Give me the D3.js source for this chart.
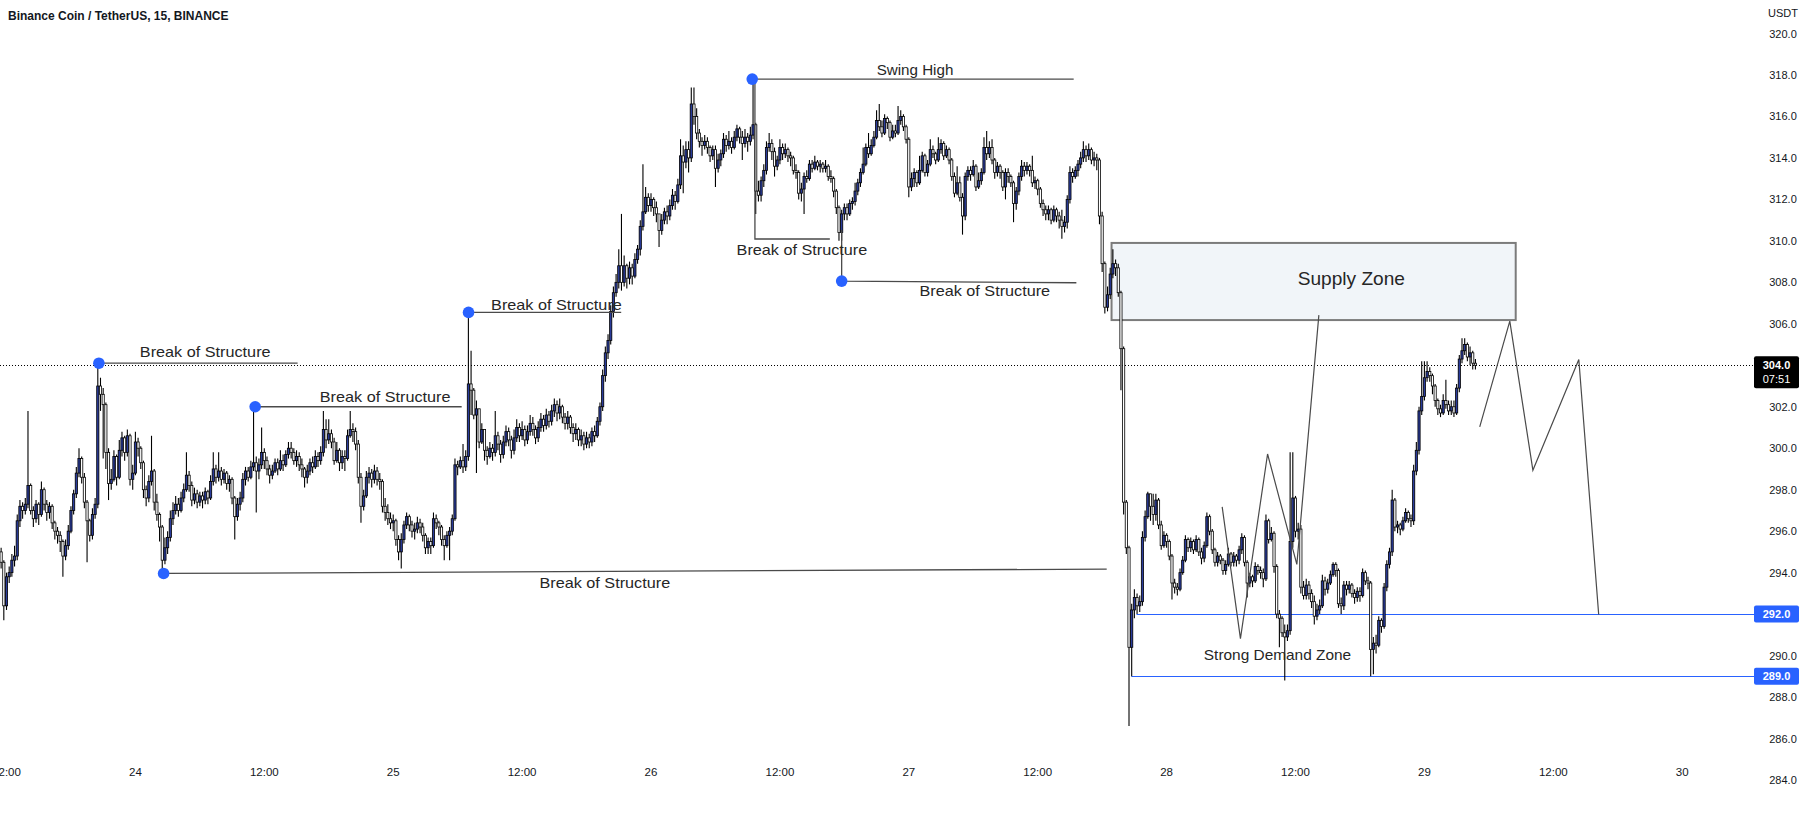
<!DOCTYPE html>
<html><head><meta charset="utf-8">
<script src="https://cdn.jsdelivr.net/npm/d3@7"></script>
<style>html,body{margin:0;padding:0;background:#fff;overflow:hidden}svg{display:block}</style>
</head><body>
<svg id="chart" width="1814" height="818"></svg>
<script>
// ---------------- DATA ----------------
const title = "Binance Coin / TetherUS, 15, BINANCE";
const priceUnit = "USDT";
const startTime = Date.UTC(2023, 2, 23, 11, 30); // first 15-minute bar
const barMinutes = 15;
const firstOpen = 295.0;
const closes = [
294.5,292.4,293.8,294.0,294.6,294.8,296.5,297.2,297.0,297.3,
298.2,297.0,296.6,297.3,296.8,298.0,297.3,296.9,297.2,296.4,
296.0,295.8,295.5,294.8,295.3,296.0,297.0,297.8,298.8,299.5,
298.6,297.4,296.5,295.8,296.8,297.3,
303.0,302.6,302.1,299.8,298.3,298.5,299.6,298.6,299.9,300.5,
299.8,300.6,298.5,298.8,300.3,300.0,299.3,298.0,297.6,298.4,
298.9,297.4,296.8,296.2,294.6,295.2,295.7,296.6,297.0,
297.3,297.0,297.6,298.0,298.7,298.2,297.5,297.8,297.4,297.7,
297.5,297.9,297.6,298.4,299.0,298.6,298.9,298.5,298.8,298.3,
298.5,297.6,296.7,297.3,297.6,298.5,298.9,298.6,299.1,299.3,
298.9,299.2,299.8,299.4,299.0,298.7,298.9,299.3,299.0,299.4,
299.2,299.7,300.0,299.8,299.4,299.6,299.2,299.0,298.6,298.9,
299.3,299.1,299.6,299.4,299.8,300.9,300.4,300.7,300.3,299.4,
299.9,299.3,299.6,299.5,300.6,300.9,300.8,300.2,298.6,297.2,
297.7,298.6,298.8,298.5,298.9,298.5,298.4,297.2,296.9,296.6,
296.4,296.5,295.6,295.0,295.6,296.3,296.7,296.3,296.0,296.1,
296.4,296.2,295.8,295.2,295.5,295.3,296.6,296.4,296.2,295.6,
295.3,295.8,296.0,296.6,299.2,299.1,299.4,299.1,299.6,303.1,
302.8,301.6,301.9,300.3,300.9,299.9,299.6,300.0,299.8,300.6,
300.2,299.7,300.3,300.8,300.4,299.9,300.5,301.0,300.6,300.9,
300.4,300.8,301.2,300.9,300.5,301.0,301.4,301.1,301.6,301.3,
301.8,302.1,301.7,302.0,301.5,301.2,301.5,301.0,300.7,300.9,
300.4,300.6,300.2,300.5,300.3,300.8,300.6,301.3,302.0,303.5,
304.6,305.2,306.6,307.5,308.0,
308.8,308.0,308.8,308.2,308.7,308.3,309.1,309.6,310.7,311.4,
312.1,311.7,312.0,311.6,311.3,310.5,311.0,311.4,311.2,311.7,
312.2,311.9,312.7,314.1,313.8,314.4,314.0,316.6,316.0,315.2,
314.8,314.6,314.8,314.5,314.1,314.4,313.5,313.9,314.2,314.9,
314.6,314.8,314.5,315.0,315.4,315.0,314.7,315.0,314.8,315.1,
315.6,312.4,312.2,312.9,313.4,314.5,314.7,314.3,313.6,313.9,
314.5,314.2,314.4,314.1,314.0,313.4,313.3,312.3,312.5,313.1,
313.0,313.7,313.5,313.8,313.6,313.7,313.5,313.6,313.1,313.0,
312.4,311.6,310.4,311.3,311.6,311.3,311.8,311.9,312.4,312.8,
313.3,313.7,314.5,314.2,314.6,315.0,315.8,315.5,315.2,315.9,
315.7,315.0,315.3,315.2,315.8,316.0,315.5,314.9,312.6,313.0,
313.3,312.8,313.4,314.1,313.3,313.7,314.4,314.2,313.9,314.4,
314.7,314.1,314.4,313.9,313.1,312.3,312.8,312.1,311.2,313.1,
313.4,313.2,313.6,312.6,312.9,313.3,314.5,314.2,314.5,313.9,
313.3,313.6,313.3,312.6,313.3,313.1,312.8,311.8,312.4,313.1,
313.6,313.4,313.6,313.4,312.8,312.9,312.5,311.8,311.5,311.3,
311.5,311.0,311.5,311.2,311.0,310.7,310.9,312.0,313.3,313.1,
313.4,313.7,314.0,314.4,314.1,314.4,313.9,314.0,313.9,311.2,
308.9,306.8,307.4,308.4,308.9,308.7,307.5,304.8,297.4,295.2,
290.4,292.2,292.8,292.4,292.6,295.7,296.7,297.8,297.2,296.8,
297.5,296.3,295.3,295.8,295.5,294.8,293.5,293.3,293.2,294.0,
294.6,295.6,295.2,295.5,295.1,295.6,295.0,294.7,295.3,296.7,
296.0,295.1,294.5,294.8,294.6,294.1,294.4,294.9,294.5,294.8,
294.6,295.1,295.7,294.5,293.5,293.8,293.6,294.3,294.1,294.0,
293.7,296.5,295.6,295.9,294.3,292.0,291.8,291.1,290.9,291.2,
295.5,297.6,296.0,296.1,293.3,292.9,293.4,293.0,292.6,291.9,
292.2,292.4,293.6,293.2,293.5,293.9,294.4,294.1,292.5,292.4,
293.4,293.2,293.4,293.0,292.8,293.1,292.9,294.0,293.6,293.5,
290.3,290.6,290.5,291.7,291.4,293.3,294.4,295.0,297.5,296.2,
296.3,296.1,296.5,296.9,296.6,296.5,
298.9,299.9,301.8,302.5,303.4,303.7,303.5,303.0,302.3,301.9,
301.7,302.3,302.1,301.8,302.0,301.7,302.9,304.3,304.7,305.0,
304.4,304.6,304.1,304.0];
const highs = [
295.2,294.6,294.0,294.3,294.9,295.3,296.8,297.5,297.4,297.6,
301.8,298.3,297.2,297.5,297.4,298.4,298.1,297.5,297.4,297.3,
296.5,296.2,296.0,295.6,295.6,296.3,297.2,298.0,299.1,300.0,
299.6,298.8,297.5,296.6,297.1,297.6,
304.1,303.4,302.9,302.2,300.0,299.0,299.9,299.7,300.4,300.8,
300.6,300.9,300.7,299.2,300.8,300.5,300.1,299.4,298.2,298.7,
300.6,299.0,297.8,296.9,296.3,295.7,296.0,297.0,297.4,
297.7,297.6,297.9,298.3,299.8,298.9,298.4,298.1,298.0,297.9,
297.9,298.1,298.0,298.7,299.8,299.2,299.8,299.1,299.0,298.9,
298.7,298.6,297.7,297.6,297.9,298.8,299.1,299.1,299.4,302.0,
299.6,299.5,301.0,300.0,299.6,299.2,299.2,299.5,299.5,299.9,
299.7,299.9,300.3,300.3,300.0,299.9,299.8,299.5,299.1,299.2,
299.5,299.6,299.9,299.8,300.1,301.8,301.4,301.4,300.9,300.5,
300.3,300.0,299.9,299.9,300.9,301.8,301.2,301.0,300.4,298.8,
298.0,298.9,299.1,299.0,299.2,299.1,298.8,298.5,297.6,297.3,
296.9,296.8,296.6,295.8,295.9,296.5,296.9,296.8,296.5,296.4,
296.7,296.6,296.4,295.9,295.7,295.7,296.9,296.8,296.5,296.3,
295.8,296.0,296.2,296.8,299.5,299.4,299.6,300.2,299.9,306.6,
304.7,302.9,302.3,301.5,301.2,300.7,300.1,300.3,300.2,301.8,
300.8,300.4,300.6,301.1,301.0,300.6,300.9,301.4,301.2,301.3,
301.1,301.1,301.6,301.5,301.1,301.3,301.7,301.6,301.9,301.8,
302.1,302.4,302.3,302.4,302.1,301.7,301.8,301.6,301.2,301.2,
301.0,300.9,300.8,300.8,300.7,301.0,301.1,301.5,302.2,303.8,
304.9,305.5,306.9,307.8,308.4,
309.6,311.3,309.3,308.9,309.0,308.9,309.4,309.8,311.0,313.7,
312.6,312.3,312.3,312.1,311.9,311.3,311.3,311.6,311.7,312.0,
312.5,312.4,313.0,314.9,314.6,314.8,314.8,317.4,317.4,316.4,
315.4,315.0,315.1,315.0,314.6,314.6,314.6,314.2,314.4,315.2,
315.1,315.3,315.0,315.3,315.6,315.5,315.3,315.4,315.2,315.5,
317.8,315.7,312.9,313.1,313.7,314.8,315.2,314.9,314.5,314.1,
314.9,314.7,314.7,314.5,314.3,314.1,313.7,313.4,312.8,313.3,
313.4,313.9,313.9,314.1,313.9,313.9,313.8,313.9,313.7,313.4,
313.1,312.5,311.7,311.5,311.8,311.8,312.0,312.1,312.8,313.0,
313.5,314.5,314.7,315.2,314.9,315.3,316.3,316.6,315.8,316.1,
316.0,315.8,315.6,315.6,316.5,316.3,316.1,315.6,315.0,313.3,
313.5,313.4,314.1,314.3,314.2,313.9,314.9,314.6,314.3,315.0,
314.9,314.8,314.6,314.5,314.0,313.3,313.6,313.1,312.3,313.3,
313.6,313.6,313.9,313.7,313.3,313.5,315.0,315.3,314.8,314.9,
314.0,313.8,313.7,313.4,313.5,313.5,313.2,312.9,312.6,313.3,
313.9,313.8,313.8,313.7,314.1,313.1,313.0,312.6,312.0,311.7,
311.7,311.6,311.7,311.6,311.4,311.5,311.2,312.2,313.6,313.5,
313.6,313.9,314.3,314.8,314.6,314.7,314.5,314.3,314.2,314.0,
311.4,309.0,307.8,308.7,309.6,309.1,308.9,307.6,304.9,297.5,
295.3,292.5,293.2,293.0,292.9,296.0,297.0,297.9,297.8,297.8,
297.8,297.6,296.5,296.0,295.9,295.6,294.9,293.7,293.5,294.2,
294.8,295.8,295.7,295.7,295.6,295.8,295.7,295.2,295.5,296.9,
296.8,296.1,295.2,295.0,294.9,294.7,294.6,295.2,295.0,295.0,
294.9,295.3,295.9,295.8,294.6,294.0,293.9,294.5,294.4,294.3,
294.2,296.8,296.6,296.2,296.0,294.4,292.2,291.9,291.5,291.5,
299.8,299.8,297.7,296.4,296.3,293.6,293.7,293.6,293.2,292.9,
292.5,292.7,293.9,293.8,293.7,294.1,294.5,294.5,294.2,292.8,
293.6,293.6,293.6,293.5,293.2,293.3,293.3,294.2,294.1,293.8,
293.6,290.9,291.0,291.9,291.8,293.5,294.6,295.2,298.0,297.6,
296.5,296.4,296.7,297.1,297.0,296.8,
299.2,300.3,302.0,304.2,304.2,304.2,303.9,303.6,303.1,302.4,
302.1,302.6,303.3,302.3,302.3,302.3,303.1,304.5,305.3,305.3,
305.1,304.9,304.7,304.3];
const lows = [
294.2,291.7,292.2,293.5,293.8,294.3,294.6,296.2,296.6,296.8,
297.1,296.8,296.2,296.4,296.3,296.7,297.0,296.5,296.6,296.1,
295.6,295.4,295.0,293.8,294.6,295.1,295.9,296.8,297.6,298.6,
298.3,297.1,294.5,295.5,295.6,296.6,
297.1,301.8,299.5,299.0,297.5,298.0,298.4,298.2,298.5,299.6,
299.4,299.6,298.2,298.0,298.7,299.6,299.0,297.6,297.2,297.4,
298.2,297.0,296.5,295.5,294.0,294.4,294.9,295.5,296.3,
296.8,296.7,296.9,297.4,297.9,297.9,297.2,297.3,297.1,297.2,
297.1,297.3,297.3,297.5,298.2,298.3,298.4,298.2,298.3,298.0,
297.9,297.3,295.6,296.5,297.0,297.4,298.2,298.4,298.5,298.9,
296.9,298.5,299.0,299.0,298.7,298.3,298.5,298.8,298.7,298.9,
298.9,299.1,299.5,299.5,299.2,299.1,298.9,298.6,298.1,298.3,
298.7,298.8,299.0,299.1,299.2,299.6,300.0,300.2,300.0,299.2,
299.3,298.9,299.0,298.9,299.4,300.5,300.3,299.9,298.3,296.4,
297.0,297.6,298.3,298.1,298.3,298.2,298.0,296.9,296.5,296.3,
296.1,296.0,295.3,294.6,294.2,295.4,296.1,296.0,295.7,295.6,
295.9,295.9,295.5,294.9,294.9,294.9,295.2,296.1,295.8,295.3,
294.6,295.2,294.6,295.8,296.5,298.7,299.0,298.8,298.9,299.4,
301.6,301.4,298.8,300.0,300.2,299.4,299.2,299.5,299.4,299.6,
299.9,299.3,299.5,300.1,300.1,299.5,299.7,300.3,300.3,300.4,
300.1,300.2,300.6,300.6,300.2,300.3,300.8,300.8,300.9,301.0,
301.1,301.5,301.3,301.4,301.2,300.9,300.9,300.7,300.3,300.4,
300.1,300.1,299.9,300.0,300.0,300.1,300.3,300.5,301.1,301.8,
303.2,304.3,305.0,306.3,307.3,
307.7,307.6,307.8,307.7,307.9,307.9,308.2,308.9,309.3,310.5,
311.3,311.4,311.4,311.2,310.9,309.7,310.3,310.8,310.8,311.0,
311.5,311.5,311.8,312.5,312.3,313.5,313.3,313.8,315.6,314.9,
314.5,314.1,314.4,314.2,313.8,313.9,312.6,313.3,313.6,314.0,
314.3,314.4,314.2,314.4,314.8,314.7,313.9,314.5,314.3,314.6,
314.9,311.3,311.9,311.9,312.6,313.2,314.3,313.9,313.1,313.4,
313.7,313.9,314.0,313.8,313.6,313.2,313.0,312.0,311.9,311.3,
312.8,312.9,313.3,313.4,313.4,313.3,313.3,313.3,312.9,312.8,
312.1,311.3,310.0,310.0,311.0,311.0,311.2,311.5,311.7,312.2,
312.6,313.2,313.6,314.0,314.1,314.5,314.9,315.3,315.0,315.1,
315.4,314.8,314.9,315.0,315.1,315.6,315.3,314.7,312.1,312.4,
312.6,312.6,312.7,313.3,313.1,313.1,313.6,314.0,313.7,313.8,
314.2,313.9,314.0,313.7,312.9,312.1,312.2,311.9,310.3,311.0,
312.9,312.9,313.1,312.4,312.5,312.7,313.2,313.9,314.0,313.7,
313.0,313.1,313.0,312.4,312.0,312.8,312.6,310.9,311.5,312.2,
312.9,313.1,313.2,313.1,312.6,312.5,312.2,311.6,311.2,311.0,
311.0,310.8,310.9,310.9,310.6,310.1,310.4,310.6,311.8,312.8,
313.0,313.1,313.5,313.8,313.8,313.9,313.7,313.6,313.4,310.8,
308.5,306.5,306.6,307.2,308.2,308.3,307.3,302.8,296.8,294.9,
286.6,289.0,291.8,292.0,292.1,292.4,295.5,296.6,296.5,296.3,
296.5,296.1,295.1,295.2,295.2,294.6,292.7,293.0,292.9,293.1,
293.9,294.5,295.0,295.0,294.9,295.0,294.8,294.4,294.5,295.2,
295.8,294.9,294.3,294.3,294.4,293.9,293.9,294.3,294.3,294.3,
294.3,294.4,294.9,294.3,292.8,293.3,293.3,293.5,293.9,293.7,
293.3,293.6,295.4,295.5,294.0,291.8,290.4,290.9,288.8,290.7,
291.0,295.2,295.7,295.6,293.0,292.7,292.7,292.7,292.3,291.5,
291.7,292.0,292.3,292.9,293.0,293.4,293.8,293.8,292.3,292.0,
292.2,292.9,293.0,292.8,292.5,292.6,292.6,292.8,293.4,293.2,
289.0,289.1,290.1,290.4,291.1,291.3,293.1,294.2,294.8,296.0,
295.9,295.8,296.0,296.4,296.4,296.2,
296.3,298.7,299.7,301.6,302.3,303.2,303.2,302.6,302.0,301.6,
301.5,301.6,301.9,301.6,301.6,301.5,301.6,302.7,304.1,304.5,
304.2,304.0,303.8,303.8];

const priceTicks = [284,286,288,290,292,294,296,298,300,302,304,306,308,310,312,314,316,318,320];
const timeTicks = [
  {t:"2023-03-23T12:00:00Z", label:"12:00"}, {t:"2023-03-24T00:00:00Z", label:"24"},
  {t:"2023-03-24T12:00:00Z", label:"12:00"}, {t:"2023-03-25T00:00:00Z", label:"25"},
  {t:"2023-03-25T12:00:00Z", label:"12:00"}, {t:"2023-03-26T00:00:00Z", label:"26"},
  {t:"2023-03-26T12:00:00Z", label:"12:00"}, {t:"2023-03-27T00:00:00Z", label:"27"},
  {t:"2023-03-27T12:00:00Z", label:"12:00"}, {t:"2023-03-28T00:00:00Z", label:"28"},
  {t:"2023-03-28T12:00:00Z", label:"12:00"}, {t:"2023-03-29T00:00:00Z", label:"29"},
  {t:"2023-03-29T12:00:00Z", label:"12:00"}, {t:"2023-03-30T00:00:00Z", label:"30"}
];
const lastPrice = 304.0;
const countdown = "07:51";
// horizontal levels: [price, starting bar index]
const levelPrices = [292.0, 289.0];
const levelStarts = [422.8, 420.9];
// annotations in (bar index, price)
const structureMarks = [
  {label:"Break of Structure", dot:[36.4,304.1],  path:[[36.4,304.1],[110.4,304.1]], text:[76.0,304.65]},
  {label:"Break of Structure", dot:[94.6,302.0], path:[[94.6,302.0],[171.5,302.0]], text:[143.0,302.5]},
  {label:"Break of Structure", dot:[60.5,293.96], path:[[60.5,293.96],[411.7,294.17]], text:[224.8,293.54]},
  {label:"Break of Structure", dot:[174.05,306.55], path:[[174.05,306.55],[230.9,306.55]], text:[206.8,306.94]},
  {label:"Swing High",         dot:[279.7,317.8], path:[[279.7,317.8],[399.4,317.8]], text:[340.3,318.24]},
  {label:"Break of Structure", dot:null, path:[[280.7,317.8],[280.7,310.09],[308.6,310.09]], text:[298.2,309.6]},
  {label:"Break of Structure", dot:[313.0,308.06], path:[[313.0,310.52],[313.0,308.06],[400.4,307.98]], text:[366.3,307.6]}
];
const supplyZone = {from:413.5, to:564.0, top:309.9, bottom:306.18, label:"Supply Zone", text:[502.8,308.2]};
const demandLabel = {label:"Strong Demand Zone", text:[475.3,290.05]};
const pathDemand = [[454.7,297.17],[461.5,290.82],[471.6,299.72],[482.5,294.4],[490.7,306.42]];
const pathForecast = [[550.6,301.03],[561.8,306.13],[570.4,298.94],[587.5,304.28],[594.9,291.98]];

// ---------------- STYLE / LAYOUT ----------------
const W = 1814, H = 818, plotRight = 1754;
const upColor = "#2a3c9c", downColor = "#ffffff", edge = "#000000";
const dotColor = "#2962ff", levelColor = "#2962ff", drawColor = "#4a4a4a", textColor = "#262626";
const font = "'Liberation Sans', Arial, sans-serif";
const labelWidths = {"Break of Structure":130.7, "Swing High":76.7, "Supply Zone":107.3, "Strong Demand Zone":147.3};

const svg = d3.select("#chart");
const x = d3.scaleUtc().domain([new Date(Date.UTC(2023,2,24)), new Date(Date.UTC(2023,2,30))]).range([135.4, 1682.2]);
const y = d3.scaleLinear().domain([284, 320]).range([780, 33.5]);
const barTime = i => new Date(startTime + i * barMinutes * 60000);
const bx = i => x(barTime(i));
const pt = d => [bx(d[0]), y(d[1])];

svg.append("rect").attr("width", W).attr("height", H).attr("fill", "#fff");
svg.append("defs").append("clipPath").attr("id","plot").append("rect")
  .attr("x",0).attr("y",0).attr("width",plotRight).attr("height",H);
const plot = svg.append("g").attr("clip-path","url(#plot)");

// title
svg.append("text").attr("x", 8).attr("y", 16).attr("dominant-baseline","central")
  .attr("font-family", font).attr("font-weight","bold").attr("font-size", 12)
  .attr("fill", "#131722").text(title);

// supply zone (below candles)
plot.append("rect")
  .attr("x", bx(supplyZone.from)).attr("y", y(supplyZone.top))
  .attr("width", bx(supplyZone.to) - bx(supplyZone.from))
  .attr("height", y(supplyZone.bottom) - y(supplyZone.top))
  .attr("fill", "#f1f5f9").attr("stroke", "#7b7b7b").attr("stroke-width", 2);

// last-price dotted line
plot.append("line").attr("x1",0).attr("x2",plotRight).attr("y1",Math.round(y(lastPrice))+0.5).attr("y2",Math.round(y(lastPrice))+0.5)
  .attr("stroke","#000").attr("stroke-width",1).attr("stroke-dasharray","1,2");

// horizontal levels
levelPrices.forEach((p,k) => {
  plot.append("line").attr("x1", bx(levelStarts[k])).attr("x2", plotRight)
    .attr("y1", Math.round(y(p))+0.5).attr("y2", Math.round(y(p))+0.5)
    .attr("stroke", levelColor).attr("stroke-width", 1);
});

// candles
const n = Math.min(closes.length, highs.length, lows.length);
const bars = d3.range(n).map(i => {
  const o = i === 0 ? firstOpen : closes[i-1], c = closes[i];
  return {i, o, c, h: Math.max(highs[i], o, c), l: Math.min(lows[i], o, c)};
});
const cg = plot.append("g");
cg.selectAll("line.wick").data(bars).join("line").attr("class","wick")
  .attr("x1", d => bx(d.i)).attr("x2", d => bx(d.i))
  .attr("y1", d => y(d.h)).attr("y2", d => y(d.l))
  .attr("stroke", edge).attr("stroke-width", 1.1);
const bodyW = 2.2;
cg.selectAll("rect.body").data(bars).join("rect").attr("class","body")
  .attr("x", d => bx(d.i) - bodyW/2)
  .attr("y", d => y(Math.max(d.o, d.c)))
  .attr("width", bodyW)
  .attr("height", d => Math.max(0.6, Math.abs(y(d.o) - y(d.c))))
  .attr("fill", d => d.c >= d.o ? upColor : downColor)
  .attr("stroke", edge).attr("stroke-width", 0.8);

// drawings
const line = d3.line();
function label(g, text, at, size) {
  const w = labelWidths[text];
  const p = pt(at);
  g.append("text").attr("x", p[0] - w/2).attr("y", p[1]).attr("dominant-baseline","central")
    .attr("font-family", font).attr("font-size", size).attr("fill", textColor)
    .attr("textLength", w).attr("lengthAdjust","spacingAndGlyphs").text(text);
}
const dg = plot.append("g");
structureMarks.forEach(m => {
  dg.append("path").attr("d", line(m.path.map(pt))).attr("fill","none")
    .attr("stroke", drawColor).attr("stroke-width", 1.3);
});
structureMarks.forEach(m => {
  if (m.dot) { const p = pt(m.dot);
    dg.append("circle").attr("cx", p[0]).attr("cy", p[1]).attr("r", 5.8).attr("fill", dotColor); }
  label(dg, m.label, m.text, 15);
});
dg.append("path").attr("d", line(pathDemand.map(pt))).attr("fill","none").attr("stroke", drawColor).attr("stroke-width",1.2);
dg.append("path").attr("d", line(pathForecast.map(pt))).attr("fill","none").attr("stroke", drawColor).attr("stroke-width",1.2);
label(dg, supplyZone.label, supplyZone.text, 19);
label(dg, demandLabel.label, demandLabel.text, 15);

// price axis (tick labels hidden behind price tags are skipped)
const tagged = [lastPrice, ...levelPrices];
const ax = svg.append("g");
ax.append("text").attr("x", 1783).attr("y", 13).attr("text-anchor","middle").attr("dominant-baseline","central")
  .attr("font-family", font).attr("font-size", 11).attr("fill","#131722").text(priceUnit);
ax.selectAll("text.pt").data(priceTicks.filter(p => !tagged.includes(p))).join("text").attr("class","pt")
  .attr("x", 1783).attr("y", d => y(d)).attr("text-anchor","middle").attr("dominant-baseline","central")
  .attr("font-family", font).attr("font-size", 11).attr("fill","#131722").text(d => d.toFixed(1));

// price tags
const lp = y(lastPrice);
ax.append("rect").attr("x",1754).attr("y", lp - 9).attr("width",45).attr("height",32).attr("rx",2).attr("fill","#000");
ax.append("text").attr("x",1776.5).attr("y", lp).attr("text-anchor","middle").attr("dominant-baseline","central")
  .attr("font-family", font).attr("font-weight","bold").attr("font-size",11).attr("fill","#fff").text(lastPrice.toFixed(1));
ax.append("text").attr("x",1776.5).attr("y", lp + 14).attr("text-anchor","middle").attr("dominant-baseline","central")
  .attr("font-family", font).attr("font-size",11).attr("fill","#fff").text(countdown);
levelPrices.forEach(p => {
  const yy = y(p);
  ax.append("rect").attr("x",1754).attr("y", yy - 8.5).attr("width",45).attr("height",17).attr("rx",2).attr("fill",levelColor);
  ax.append("text").attr("x",1776.5).attr("y", yy).attr("text-anchor","middle").attr("dominant-baseline","central")
    .attr("font-family", font).attr("font-weight","bold").attr("font-size",11).attr("fill","#fff").text(p.toFixed(1));
});

// time axis
svg.append("g").selectAll("text").data(timeTicks).join("text")
  .attr("x", d => x(new Date(d.t))).attr("y", 772).attr("text-anchor","middle").attr("dominant-baseline","central")
  .attr("font-family", font).attr("font-size", 11.5).attr("fill","#131722").text(d => d.label);
</script>
</body></html>
